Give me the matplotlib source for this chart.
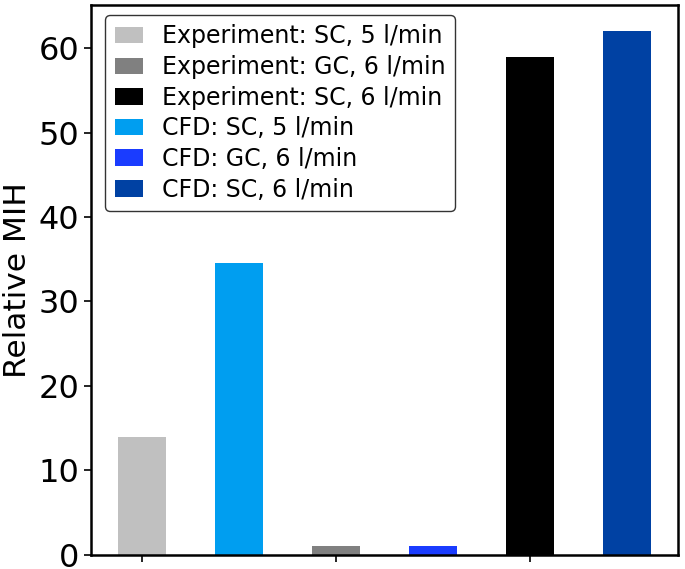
import matplotlib
matplotlib.use('Agg')
import matplotlib.pyplot as plt

labels = ['Experiment: SC, 5 l/min', 'CFD: SC, 5 l/min',
          'Experiment: GC, 6 l/min', 'CFD: GC, 6 l/min',
          'Experiment: SC, 6 l/min', 'CFD: SC, 6 l/min']
values = [14.0, 34.5, 1.0, 1.0, 59.0, 62.0]
positions = [0, 0.5, 1, 1.5, 2, 2.5]
colors = ['#c0c0c0', '#009ef0', '#808080', '#1a3cff', '#000000', '#0041a3']
legend_order = [0, 2, 4, 1, 3, 5]

fig = plt.figure(figsize=(6.85, 5.69), dpi=100)
ax = fig.add_axes([0.133, 0.025, 0.857, 0.966])

bars = []
for x, v, c, lab in zip(positions, values, colors, labels):
    bars.append(ax.bar(x, v, width=0.25, color=c, label=lab))

ax.set_xticks([0, 1, 2])
ax.set_xticklabels(['', '', ''])
ax.set_ylabel('Relative MIH', fontsize=22.5)
ax.yaxis.set_label_coords(-0.1, 0.5)
ax.tick_params(axis='y', labelsize=23, width=1.2, length=5)
ax.tick_params(axis='x', width=1.2, length=5)
for s in ax.spines.values():
    s.set_linewidth(1.8)

ax.legend([bars[i] for i in legend_order], [labels[i] for i in legend_order],
          loc='upper left', bbox_to_anchor=(0.024, 0.982), borderaxespad=0,
          fontsize=17, handlelength=1.2, labelspacing=0.28,
          handletextpad=0.8, edgecolor='black', framealpha=0.8)

fig.savefig('out.png', dpi=100)
